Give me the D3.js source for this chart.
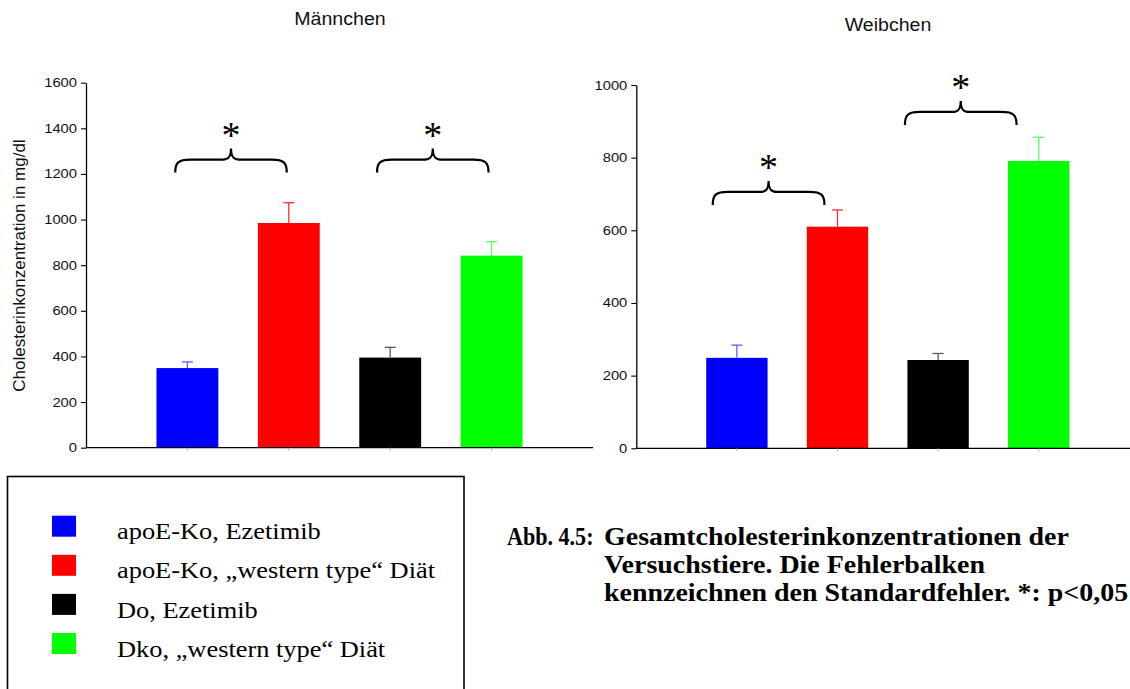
<!DOCTYPE html>
<html>
<head>
<meta charset="utf-8">
<script src="https://cdn.jsdelivr.net/npm/d3@7"></script>
<style>
    body { margin: 0; background: #fff; }
    svg { display: block; }
</style>
</head>
<body>
<svg id="chart" width="1130" height="689"></svg>
<script>
// groups and colours shared by both panels
var groups = ["apoE-Ko, Ezetimib", "apoE-Ko, \u201Ewestern type\u201C Di\u00E4t", "Do, Ezetimib", "Dko, \u201Ewestern type\u201C Di\u00E4t"];
var colors = ["#0000ff", "#ff0000", "#000000", "#00ff00"];
var errColors = ["#5c5cff", "#ff3030", "#5a5a5a", "#5cff5c"];

// Männchen
var maleMeans = [349, 985, 395, 842];
var maleErrors = [27, 89, 45, 61];
var maleTicks = [0, 200, 400, 600, 800, 1000, 1200, 1400, 1600];
// [from, to, height] in slot units / mg/dl
var maleBraces = [[0.88, 1.98, 1206], [2.87, 3.97, 1206]];

// Weibchen
var femaleMeans = [249, 610, 243, 791];
var femaleErrors = [35, 46, 18, 65];
var femaleTicks = [0, 200, 400, 600, 800, 1000];
var femaleBraces = [[0.76, 1.87, 670], [2.67, 3.78, 890]];

var captionLines = ["Gesamtcholesterinkonzentrationen der", "Versuchstiere. Die Fehlerbalken", "kennzeichnen den Standardfehler. *: p<0,05"];

var svg = d3.select("#chart");

/**
 * draws one bar panel with axis, error bars and significance braces
 */
function drawPanel(p)
{
    var x = d3.scaleLinear().domain([0, 5]).range([p.left, p.right]);
    var y = d3.scaleLinear().domain([0, p.max]).range([p.bottom, p.top]);
    var barW = (x(1) - x(0)) * 0.61;
    var g = svg.append("g");

    // y axis
    var axis = g.append("g")
            .attr("transform", "translate(" + p.left + ",0)")
            .call(d3.axisLeft(y).tickValues(p.ticks).tickFormat(d3.format("d"))
                    .tickSize(5).tickSizeOuter(0).tickPadding(4));
    axis.select(".domain").attr("stroke", "#000").attr("stroke-width", 1.3);
    axis.selectAll(".tick line").attr("stroke", "#000").attr("stroke-width", 1.1);
    axis.selectAll(".tick text")
            .attr("x", -9 / 1.18)
            .attr("transform", "scale(1.18,1)")
            .style("font-family", "'Liberation Sans', Arial, sans-serif")
            .style("font-size", "12.5px")
            .attr("fill", "#111");

    // bars
    g.selectAll("rect.bar")
            .data(p.means)
            .enter().append("rect")
            .attr("class", "bar")
            .attr("x", function(d, i) { return x(i + 1) - barW / 2; })
            .attr("y", function(d) { return y(d); })
            .attr("width", barW)
            .attr("height", function(d) { return y(0) - y(d); })
            .attr("fill", function(d, i) { return colors[i]; });

    // upper error bars
    var eb = g.selectAll("g.err")
            .data(p.means)
            .enter().append("g")
            .attr("class", "err")
            .attr("stroke", function(d, i) { return errColors[i]; })
            .attr("stroke-width", 1.3);
    eb.append("line")
            .attr("x1", function(d, i) { return x(i + 1); })
            .attr("x2", function(d, i) { return x(i + 1); })
            .attr("y1", function(d) { return y(d); })
            .attr("y2", function(d, i) { return y(d + p.errors[i]); });
    eb.append("line")
            .attr("x1", function(d, i) { return x(i + 1) - 5.5; })
            .attr("x2", function(d, i) { return x(i + 1) + 5.5; })
            .attr("y1", function(d, i) { return y(d + p.errors[i]); })
            .attr("y2", function(d, i) { return y(d + p.errors[i]); });

    // x axis line with small category ticks
    g.append("line")
            .attr("x1", p.left).attr("x2", p.right)
            .attr("y1", y(0)).attr("y2", y(0))
            .attr("stroke", "#000").attr("stroke-width", 1.3);
    g.selectAll("line.xt")
            .data(p.means)
            .enter().append("line")
            .attr("class", "xt")
            .attr("x1", function(d, i) { return x(i + 1); })
            .attr("x2", function(d, i) { return x(i + 1); })
            .attr("y1", y(0)).attr("y2", y(0) + 3)
            .attr("stroke", "#aaa");

    // significance braces
    g.selectAll("path.brace")
            .data(p.braces)
            .enter().append("path")
            .attr("class", "brace")
            .attr("fill", "none")
            .attr("stroke", "#000")
            .attr("stroke-width", 2.2)
            .attr("d", function(b) { return bracePath(x(b[0]), x(b[1]), y(b[2])); });
    g.selectAll("text.star")
            .data(p.braces)
            .enter().append("text")
            .attr("class", "star")
            .attr("x", function(b) { return (x(b[0]) + x(b[1])) / 2; })
            .attr("y", function(b) { return y(b[2]) - 42 + 17; })
            .attr("text-anchor", "middle")
            .style("font-family", "'Liberation Serif', 'Times New Roman', serif")
            .style("font-size", "38px")
            .text("*");

    // title
    g.append("text")
            .attr("transform", "translate(" + p.titleX + "," + p.titleY + ") scale(1.12,1)")
            .attr("text-anchor", "middle")
            .style("font-family", "'Liberation Sans', Arial, sans-serif")
            .style("font-size", "17.5px")
            .attr("fill", "#111")
            .text(p.title);
}

function bracePath(x0, x1, yb)
{
    var f = yb - 13, pk = yb - 24, xm = (x0 + x1) / 2;
    return "M" + x0 + "," + yb +
            "C" + x0 + "," + (f + 3) + " " + (x0 + 3) + "," + f + " " + (x0 + 15) + "," + f +
            "L" + (xm - 8) + "," + f +
            "C" + (xm - 3) + "," + f + " " + xm + "," + (f - 2) + " " + xm + "," + pk +
            "C" + xm + "," + (f - 2) + " " + (xm + 3) + "," + f + " " + (xm + 8) + "," + f +
            "L" + (x1 - 15) + "," + f +
            "C" + (x1 - 3) + "," + f + " " + x1 + "," + (f + 3) + " " + x1 + "," + yb;
}

drawPanel({left: 86, right: 593, top: 82.7, bottom: 447.7, max: 1600,
    means: maleMeans, errors: maleErrors, ticks: maleTicks, braces: maleBraces,
    title: "M\u00E4nnchen", titleX: 340, titleY: 25});

drawPanel({left: 636.3, right: 1139.3, top: 85, bottom: 448.3, max: 1000,
    means: femaleMeans, errors: femaleErrors, ticks: femaleTicks, braces: femaleBraces,
    title: "Weibchen", titleX: 888, titleY: 31});

// y axis title (left panel only)
svg.append("text")
        .attr("transform", "translate(25,265.5) rotate(-90)")
        .attr("text-anchor", "middle")
        .style("font-family", "'Liberation Sans', Arial, sans-serif")
        .style("font-size", "17px")
        .attr("fill", "#111")
        .text("Cholesterinkonzentration in mg/dl");

// legend box, runs off the bottom edge
svg.append("rect")
        .attr("x", 7.5).attr("y", 476.5)
        .attr("width", 456.5).attr("height", 260)
        .attr("fill", "none").attr("stroke", "#000").attr("stroke-width", 1.6);

var legend = svg.selectAll("g.legend")
        .data(groups)
        .enter().append("g")
        .attr("class", "legend")
        .attr("transform", function(d, i) { return "translate(0," + (515.7 + i * 39.1) + ")"; });
legend.append("rect")
        .attr("x", 52).attr("width", 24).attr("height", 21)
        .attr("fill", function(d, i) { return colors[i]; });
legend.append("text")
        .attr("transform", "translate(117,23.6) scale(1.1,1)")
        .style("font-family", "'Liberation Serif', 'Times New Roman', serif")
        .style("font-size", "24px")
        .attr("fill", "#000")
        .text(function(d) { return d; });

// figure caption
var cap = svg.append("g")
        .style("font-family", "'Liberation Serif', 'Times New Roman', serif")
        .style("font-weight", "bold")
        .style("font-size", "26px")
        .attr("fill", "#000");
cap.append("text")
        .attr("transform", "translate(507,545) scale(0.85,1)")
        .text("Abb. 4.5:");
cap.selectAll("text.line")
        .data(captionLines)
        .enter().append("text")
        .attr("class", "line")
        .attr("transform", function(d, i) { return "translate(604," + (545 + i * 28) + ") scale(1.075,1)"; })
        .text(function(d) { return d; });
</script>
</body>
</html>
